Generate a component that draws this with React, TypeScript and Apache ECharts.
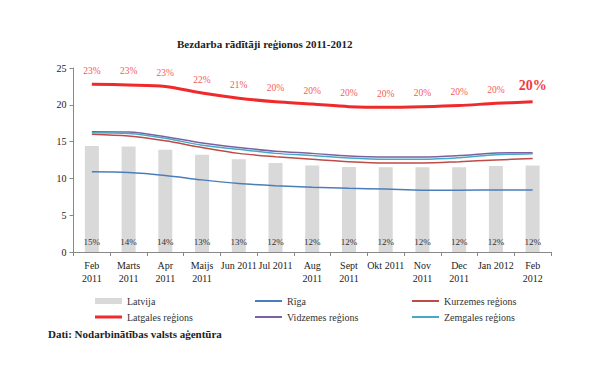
import React, { useEffect, useRef } from "react";
import * as echarts from "echarts";

const categories = [
  "Feb\n2011", "Marts\n2011", "Apr\n2011", "Maijs\n2011", "Jun 2011", "Jul 2011",
  "Aug\n2011", "Sept\n2011", "Okt 2011", "Nov\n2011", "Dec\n2011", "Jan 2012", "Feb\n2012",
];
const latvija = [14.4, 14.35, 13.9, 13.2, 12.6, 12.1, 11.75, 11.55, 11.5, 11.5, 11.5, 11.7, 11.75];
const latvijaLabels = ["15%", "14%", "14%", "13%", "13%", "12%", "12%", "12%", "12%", "12%", "12%", "12%", "12%"];
const riga = [10.9, 10.8, 10.4, 9.8, 9.3, 9.0, 8.8, 8.65, 8.55, 8.4, 8.4, 8.42, 8.42];
const kurzemes = [16.0, 15.75, 15.1, 14.2, 13.4, 12.95, 12.6, 12.27, 12.1, 12.1, 12.27, 12.5, 12.7];
const latgales = [22.8, 22.7, 22.5, 21.6, 20.9, 20.4, 20.1, 19.75, 19.66, 19.74, 19.9, 20.2, 20.4];
const latgalesLabels = ["23%", "23%", "23%", "22%", "21%", "20%", "20%", "20%", "20%", "20%", "20%", "20%", "20%"];
const vidzemes = [16.35, 16.3, 15.67, 14.8, 14.2, 13.7, 13.4, 13.04, 12.9, 12.9, 13.1, 13.45, 13.5];
const zemgales = [16.2, 16.1, 15.45, 14.5, 13.95, 13.4, 13.1, 12.77, 12.6, 12.6, 12.8, 13.2, 13.35];
const yTicks = { min: 0, max: 25, interval: 5 };

const FONT = "'Liberation Serif', 'DejaVu Serif', serif";

export default function App() {
  const ref = useRef<HTMLDivElement>(null);
  useEffect(() => {
    const chart = echarts.init(ref.current!, null, { renderer: "svg" });
    const lineSeries = (name: string, data: any[], color: string, width = 1.5) => ({
      name,
      type: "line",
      data,
      smooth: 0.3,
      symbol: "none",
      lineStyle: { color, width },
      itemStyle: { color },
      z: 3,
    });
    const last = latgales.length - 1;
    const latgalesData = latgales.map((v, i) =>
      i === last
        ? { value: v, label: { fontSize: 14, fontWeight: "bold", distance: 9, color: "#F03A3A" } }
        : { value: v }
    );
    const legendText = { fontFamily: FONT, fontSize: 10, color: "#333" };
    const leg = (item: any, left: number, top: number, h: number) => ({
      left,
      top,
      itemWidth: 27,
      itemHeight: h,
      icon: "rect",
      textStyle: legendText,
      itemGap: 4,
      data: [item],
    });
    chart.setOption({
      animation: false,
      textStyle: { fontFamily: FONT },
      title: {
        text: "Bezdarba rādītāji reģionos 2011-2012",
        left: 172,
        top: 33,
        textStyle: { fontFamily: FONT, fontSize: 11, fontWeight: "bold", color: "#222" },
      },
      grid: { left: 73.5, right: 49, top: 68, bottom: 116, containLabel: false },
      legend: [
        leg("Latvija", 90, 291, 6),
        leg({ name: "Latgales reģions", itemStyle: { color: "#F02A2A", opacity: 1 } }, 90, 307, 3),
        leg("Rīga", 250, 291, 2),
        leg("Vidzemes reģions", 250, 307, 2),
        leg("Kurzemes reģions", 407, 291, 2),
        leg("Zemgales reģions", 407, 307, 2),
      ],
      graphic: [
        {
          type: "text",
          left: 48,
          top: 328,
          style: {
            text: "Dati: Nodarbinātības valsts aģentūra",
            fontFamily: FONT,
            fontSize: 11,
            fontWeight: "bold",
            fill: "#222",
          },
        },
      ],
      xAxis: {
        type: "category",
        data: categories,
        boundaryGap: true,
        axisLine: { lineStyle: { color: "#888" } },
        axisTick: { show: true, length: 4, lineStyle: { color: "#888" } },
        axisLabel: { fontFamily: FONT, fontSize: 10, color: "#222", interval: 0, margin: 7, lineHeight: 13 },
      },
      yAxis: {
        type: "value",
        min: yTicks.min,
        max: yTicks.max,
        interval: yTicks.interval,
        axisLine: { show: true, lineStyle: { color: "#888" } },
        axisTick: { show: true, length: 4, lineStyle: { color: "#888" } },
        splitLine: { show: false },
        axisLabel: { fontFamily: FONT, fontSize: 10, color: "#222", margin: 7 },
      },
      series: [
        {
          name: "Latvija",
          type: "bar",
          data: latvija,
          barWidth: 14,
          itemStyle: { color: "#D9D9D9" },
          label: {
            show: true,
            position: "insideBottom",
            distance: 6,
            formatter: (p: any) => latvijaLabels[p.dataIndex],
            fontFamily: FONT,
            fontSize: 9,
            color: "#333",
          },
          z: 1,
        },
        lineSeries("Rīga", riga, "#4A7EBB"),
        lineSeries("Kurzemes reģions", kurzemes, "#BE4B48"),
        {
          ...lineSeries("Latgales reģions", latgalesData, "#F02A2A", 3),
          symbol: "circle",
          showSymbol: true,
          symbolSize: 1,
          itemStyle: { color: "rgba(0,0,0,0)" },
          label: {
            show: true,
            position: "top",
            distance: 8,
            formatter: (p: any) => latgalesLabels[p.dataIndex],
            fontFamily: FONT,
            fontSize: 9.5,
            color: "#F55A5A",
          },
        },
        lineSeries("Vidzemes reģions", vidzemes, "#7D60A0"),
        lineSeries("Zemgales reģions", zemgales, "#46AAC5"),
      ],
    });
    return () => chart.dispose();
  }, []);
  return <div ref={ref} style={{ width: 600, height: 368, position: "absolute", left: 0, top: 0 }} />;
}
